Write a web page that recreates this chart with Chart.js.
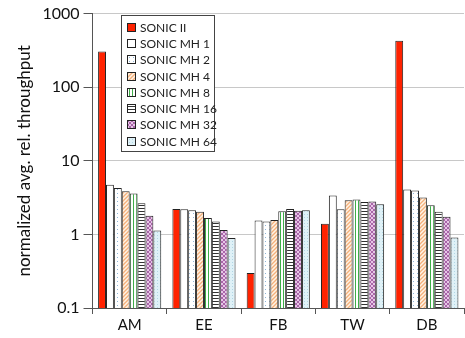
<!DOCTYPE html>
<html lang="en">
<head>
    <meta charset="UTF-8">
    <title>SONIC throughput</title>
    <style>
        body {
            margin: 0;
            padding: 0;
            background: #fff;
            font-family: Lato, sans-serif;
        }

        .chart-box {
            position: relative;
            width: 465px;
            height: 338px;
        }

        .legend {
            position: absolute;
            left: 121px;
            top: 15px;
            width: 92px;
            padding: 3px 0 2px 0;
            border: 1px solid #444;
            background: #fff;
            font-size: 12px;
            color: #222;
            white-space: nowrap;
        }

        .legend-item {
            display: flex;
            align-items: center;
            height: 16.3px;
            padding-left: 5px;
        }

        .legend-swatch {
            width: 7px;
            height: 7px;
            border: 1px solid #222;
            margin-right: 4px;
            flex: none;
        }
    </style>
</head>
<body>

<div class="chart-box">
    <canvas id="chart" width="465" height="338"></canvas>
    <div class="legend" id="legend"></div>
</div>

<script src="https://cdn.jsdelivr.net/npm/chart.js"></script>

<script>
    // data
    const categories = ['AM', 'EE', 'FB', 'TW', 'DB'];
    const seriesNames = ['SONIC II', 'SONIC MH 1', 'SONIC MH 2', 'SONIC MH 4',
                         'SONIC MH 8', 'SONIC MH 16', 'SONIC MH 32', 'SONIC MH 64'];
    const sonicII = [305, 2.22, 0.30, 1.39, 427];
    const mh1 = [4.74, 2.19, 1.54, 3.38, 4.07];
    const mh2 = [4.27, 2.13, 1.50, 2.19, 3.94];
    const mh4 = [3.86, 2.03, 1.57, 2.90, 3.18];
    const mh8 = [3.60, 1.67, 2.07, 2.99, 2.49];
    const mh16 = [2.64, 1.50, 2.22, 2.75, 2.03];
    const mh32 = [1.79, 1.15, 2.09, 2.81, 1.74];
    const mh64 = [1.13, 0.89, 2.13, 2.57, 0.91];
    const yTicks = [0.1, 1, 10, 100, 1000];

    const seriesValues = [sonicII, mh1, mh2, mh4, mh8, mh16, mh32, mh64];

    // small tiles used as fill patterns
    function tile(w, h, bg, draw) {
        const c = document.createElement('canvas');
        c.width = w;
        c.height = h;
        const g = c.getContext('2d');
        g.fillStyle = bg;
        g.fillRect(0, 0, w, h);
        if (draw) draw(g);
        return c;
    }

    const tiles = [
        tile(4, 4, '#ff2200'),
        tile(4, 4, '#ffffff'),
        tile(4, 4, '#ffffff', g => {
            g.fillStyle = '#8fb5d8';
            g.fillRect(1, 1, 1, 1);
        }),
        tile(4, 4, '#fff3e6', g => {
            g.strokeStyle = '#f4b07a';
            g.lineWidth = 1.3;
            g.beginPath();
            g.moveTo(-1, 5); g.lineTo(5, -1);
            g.moveTo(-1, 1); g.lineTo(1, -1);
            g.moveTo(3, 5); g.lineTo(5, 3);
            g.stroke();
        }),
        tile(3, 3, '#ffffff', g => {
            g.fillStyle = '#3fae49';
            g.fillRect(1, 0, 1, 3);
        }),
        tile(3, 3, '#ffffff', g => {
            g.fillStyle = '#333333';
            g.fillRect(0, 1, 3, 1);
        }),
        tile(4, 4, '#e6c6e6', g => {
            g.strokeStyle = '#a25aa2';
            g.lineWidth = 0.9;
            g.beginPath();
            g.moveTo(0, 0); g.lineTo(4, 4);
            g.moveTo(0, 4); g.lineTo(4, 0);
            g.stroke();
        }),
        tile(3, 3, '#dff1f7', g => {
            g.fillStyle = '#b2d6e4';
            g.fillRect(1, 1, 1, 1);
        })
    ];

    const canvas = document.getElementById('chart');
    const ctx = canvas.getContext('2d');

    const datasets = seriesNames.map((name, i) => ({
        label: name,
        data: seriesValues[i],
        backgroundColor: ctx.createPattern(tiles[i], 'repeat'),
        borderColor: '#222',
        borderWidth: 1,
        categoryPercentage: 0.85,
        barPercentage: 1.0
    }));

    // legend as html
    const legend = document.getElementById('legend');
    seriesNames.forEach((name, i) => {
        const item = document.createElement('div');
        item.className = 'legend-item';
        const sw = document.createElement('div');
        sw.className = 'legend-swatch';
        sw.style.backgroundImage = 'url(' + tiles[i].toDataURL() + ')';
        const label = document.createElement('span');
        label.textContent = name;
        item.appendChild(sw);
        item.appendChild(label);
        legend.appendChild(item);
    });

    new Chart(ctx, {
        type: 'bar',
        data: {
            labels: categories,
            datasets: datasets
        },
        options: {
            responsive: false,
            animation: false,
            layout: {
                padding: { top: 1, right: 1, left: 14, bottom: 2 }
            },
            plugins: {
                legend: { display: false },
                tooltip: { enabled: false }
            },
            scales: {
                x: {
                    grid: {
                        display: true,
                        drawOnChartArea: false,
                        offset: true,
                        color: '#555',
                        tickLength: 6
                    },
                    border: { color: '#555', width: 1 },
                    ticks: {
                        color: '#111',
                        font: { family: 'Lato', size: 15 },
                        padding: 2
                    }
                },
                y: {
                    type: 'logarithmic',
                    min: 0.1,
                    max: 1000,
                    afterBuildTicks: axis => {
                        axis.ticks = yTicks.map(v => ({ value: v }));
                    },
                    grid: {
                        color: '#c8c8c8',
                        tickColor: '#555',
                        tickLength: 9
                    },
                    border: { color: '#555', width: 1 },
                    ticks: {
                        color: '#111',
                        font: { family: 'Lato', size: 16 },
                        padding: 4,
                        callback: v => String(v)
                    },
                    title: {
                        display: true,
                        text: 'normalized avg. rel. throughput',
                        color: '#111',
                        font: { family: 'Lato', size: 17 },
                        padding: { top: 0, bottom: 4 }
                    }
                }
            }
        }
    });
</script>

</body>
</html>
